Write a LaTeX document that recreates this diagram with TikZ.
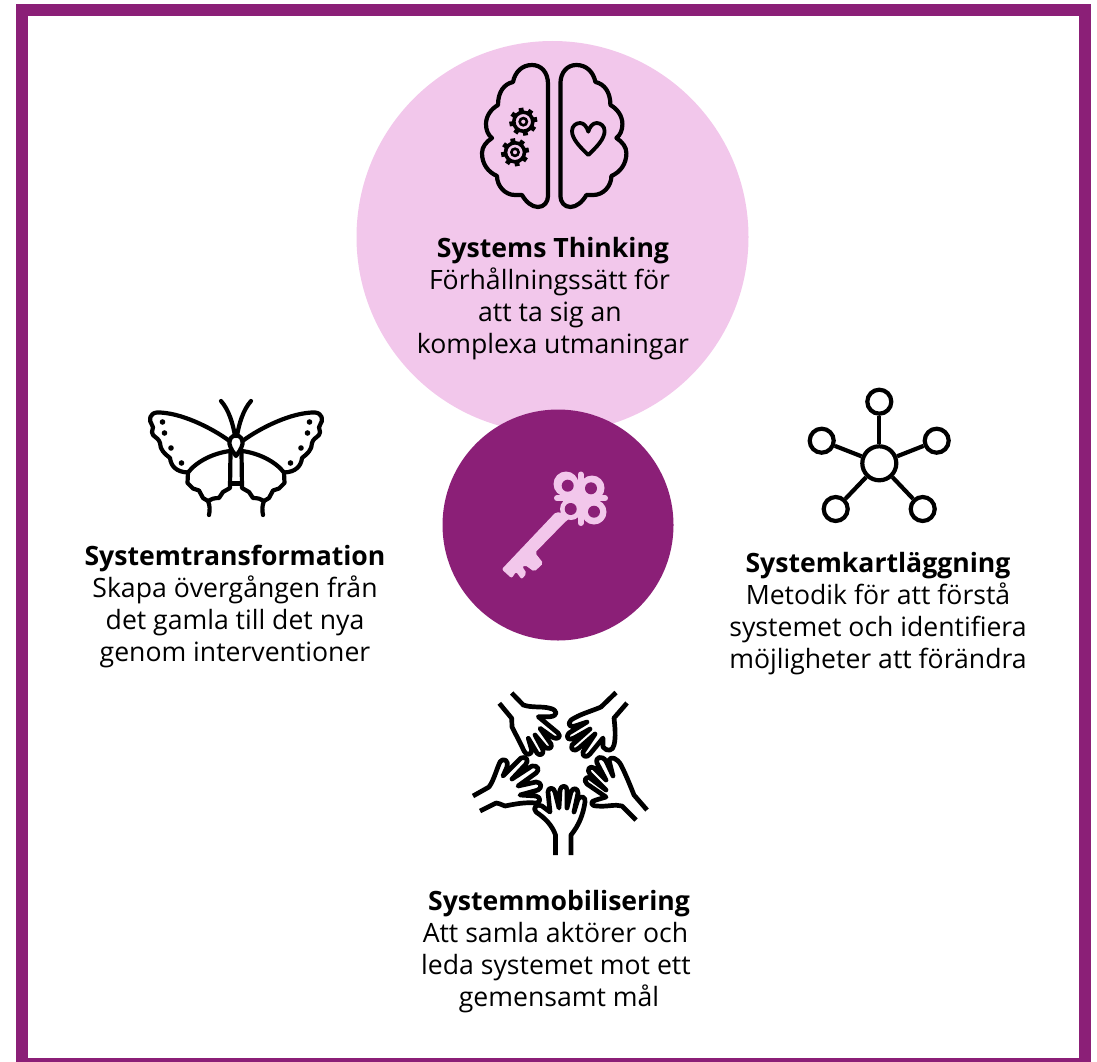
\documentclass[tikz,border=0pt]{standalone}
\usepackage{fontspec}
\setmainfont{Open Sans}
\definecolor{plum}{HTML}{8B1F77}
\definecolor{pinkc}{HTML}{F2C7EB}
\tikzset{
 icon/.style={draw=black,line width=4.2pt,line cap=round,line join=round},
 handicon/.style={icon,line width=4.7pt},
 caption/.style={align=center,font=\fontsize{26.6}{32}\selectfont,inner sep=0pt,text=black},
 pinkdisc/.style={circle,fill=pinkc,inner sep=0pt,minimum size=392pt},
 plumdisc/.style={circle,fill=plum,inner sep=0pt,minimum size=231pt},
 netnode/.style={circle,draw=black,fill=white,line width=4.2pt,inner sep=0pt,minimum size=24pt},
 nethub/.style={netnode,minimum size=34pt},
}
\newcommand{\halfbrain}{\draw[icon] (548,84) .. controls (548,72) and (541,65) .. (532,65) .. controls (522,65) and (515,72) .. (513,82) .. controls (504,84) and (498,92) .. (498,105)
 .. controls (491,109) and (486,116) .. (486,124) .. controls (486,130) and (488,135) .. (492,138)
 .. controls (486,142) and (482,147) .. (482,153) .. controls (482,164) and (488,172) .. (497,176)
 .. controls (497,186) and (505,195) .. (515,195) -- (522,195) .. controls (526,202) and (532,207) .. (538,207) .. controls (544,207) and (548,202) .. (548,196) -- cycle;}
\newcommand{\halffly}{
\draw[icon] (221,401) .. controls (229,410) and (233,424) .. (235,436);
\draw[icon] (229.5,441) .. controls (212,428) and (180,412) .. (157,412.5) .. controls (150,413) and (148,420) .. (152,425) .. controls (155,428) and (150,431) .. (153,435) .. controls (156,438) and (159,439) .. (160,443) .. controls (160,450) and (165,454) .. (170,458) .. controls (171,466) and (176,472) .. (188,472.5);
\draw[icon] (230,451) .. controls (214,453) and (197,461) .. (188,472.5) -- (187.5,483) -- (193,488.5) -- (199,490.5) -- (203,498) -- (208,501) .. controls (210,506) and (210,510) .. (209,515);
\draw[icon] (208,501) .. controls (211,499) and (214,498) .. (219,498) -- (223,492) -- (230,488) -- (230.5,452);
\foreach \x/\y in {162.5/422,164.5/433,171/448,181.5/463}{\fill (\x,\y) circle (2.8pt);}
}
\begin{document}
\begin{tikzpicture}[x=1pt,y=-1pt]
\useasboundingbox (0,0) rectangle (1097,1062);
\draw[plum,line width=12pt] (21.5,10.3) rectangle (1085,1064);
\node[pinkdisc] (think) at (552.5,237) {};
\node[plumdisc] (keydisc) at (558,525) {};
% brain
\halfbrain
\begin{scope}[shift={(1108.4,0)},xscale=-1]\halfbrain\end{scope}
\draw[icon,line width=3.8pt] (588.3,155) .. controls (580,147) and (572,139) .. (572,131) .. controls (572,126) and (576,123) .. (580,123) .. controls (584,123) and (587,127) .. (588.3,131.7) .. controls (589.6,127) and (592.6,123) .. (596.6,123) .. controls (600.6,123) and (604.6,126) .. (604.6,131) .. controls (604.6,139) and (596.6,147) .. (588.3,155) -- cycle;
\foreach \cx/\cy in {523.3/121.7,515/152.3}{
 \draw[black,line width=3.6pt] (\cx,\cy) circle (9.5pt);
 \draw[black,line width=2.6pt] (\cx,\cy) circle (3.6pt);
 \foreach \a in {10,55,...,325}{\draw[black,line width=4.8pt] (\cx,\cy) ++(\a:9pt) -- ++(\a:5pt);}
}
% key
\fill[pinkc] (566,484) circle (12.5pt) (592,488) circle (12.5pt) (571,509) circle (11pt) (594,512) circle (12.5pt) (580,498) circle (12pt);
\draw[pinkc,line width=6pt,line cap=round] (580.7,474.5) -- (580.7,523) (557,498.3) -- (605,498.3);
\fill[pinkc,rounded corners=2pt] (556,512) -- (501.7,569.3) -- (511.7,578.3) -- (516,571.7) -- (521.7,579.3) -- (526.7,573.3) -- (522.3,566.7) -- (525,565) -- (534.3,571.7) -- (543.3,563.3) -- (535,552.7) -- (566,521) -- (575,515) -- cycle;
\fill[plum] (567.7,485.7) circle (6pt) (591,488.3) circle (6pt) (570.7,509) circle (6pt) (594,511.7) circle (6pt);
% butterfly
\halffly
\begin{scope}[shift={(472,0)},xscale=-1]\halffly\end{scope}
\draw[icon] (236,435.5) .. controls (231,435.5) and (229,440) .. (229.5,444) .. controls (230.5,449) and (234,453) .. (236,456) .. controls (238,453) and (241.5,449) .. (242.5,444) .. controls (243,440) and (241,435.5) .. (236,435.5) -- cycle;
\draw[icon] (230.5,483.5) -- (241.5,483.5);
% network
\node[nethub] (hub) at (879.3,463.3) {};
\node[netnode] (n1) at (879.3,401.7) {};
\node[netnode] (n2) at (821.7,440.7) {};
\node[netnode] (n3) at (936.7,440.7) {};
\node[netnode] (n4) at (835.7,509) {};
\node[netnode] (n5) at (922.7,509) {};
\foreach \n in {n1,n2,n3,n4,n5}{\draw[black,line width=4.2pt] (hub) -- (\n);}
% hands
\draw[handicon,line cap=butt] (511.7,693) -- (523.3,705) .. controls (532,708) and (542,706) .. (550,708.3) .. controls (558,710) and (558,716) .. (550,716.7) -- (538.3,716.7) -- (558,733) .. controls (562,737) and (557,740) .. (553,737.5) -- (540,728.3) -- (551,744) .. controls (553,748) and (548,750) .. (545,747) -- (535,735) -- (543,750) .. controls (544,755) and (539,756) .. (537,753) -- (528.3,738.3) -- (531.7,750) .. controls (532,755) and (526,756) .. (524,751) .. controls (520,742) and (516,735) .. (512,727) -- (511.7,718.3) -- (499.3,703.3);
\draw[handicon,line cap=butt] (616,692.5) -- (601,707) .. controls (592,711) and (580,714) .. (571,720) .. controls (567,724) and (570,728) .. (575,726) -- (587,722) -- (569,733) .. controls (565,738) and (569,741) .. (574,738) -- (590,729) -- (572,745) .. controls (570,750) and (575,752) .. (579,748) -- (595,734) -- (583,752) .. controls (582,757) and (587,758) .. (590,754) -- (603,738) -- (603,747) .. controls (607,752) and (613,751) .. (614,745) .. controls (616,737) and (615,727) .. (614,718) -- (627,703);
\draw[handicon,line cap=butt] (473,796) -- (489,787) .. controls (494,780) and (497,768) .. (500,762) .. controls (504,757) and (509,761) .. (507,767) -- (503,776) -- (521,758) .. controls (526,756) and (529,760) .. (526,764) -- (512,779) -- (532,766) .. controls (538,765) and (540,770) .. (536,773) -- (518,786) -- (536,782) .. controls (542,782) and (542,788) .. (538,790) -- (520,795) -- (536,796) .. controls (541,797) and (541,803) .. (536,803) .. controls (525,802) and (515,804) .. (505,806) .. controls (500,804) and (498,803) .. (496,803) -- (480,811);
\draw[handicon,line cap=butt] (647,810) -- (634,795) .. controls (630,785) and (626,775) .. (621,765) .. controls (617,758) and (611,756) .. (609,760) -- (613,776) -- (606,761) .. controls (602,755) and (595,757) .. (597,763) -- (606,780) -- (594,768) .. controls (590,765) and (586,770) .. (590,774) -- (606,790) -- (590,778) .. controls (586,776) and (583,780) .. (587,784) -- (606,797) -- (596,800) .. controls (590,801) and (590,806) .. (597,806) .. controls (607,807) and (615,804) .. (622,806) -- (636,820);
\draw[handicon,line cap=butt] (555.5,855) -- (555.5,835) .. controls (552,825) and (545,818) .. (536,812) .. controls (532,808) and (537,803) .. (542,806) -- (550,812) -- (548,792) .. controls (548,787) and (554,787) .. (555,792) -- (559,808) -- (560,790) .. controls (561,785) and (567,785) .. (567,790) -- (567,808) -- (571,792) .. controls (573,787) and (578,788) .. (578,793) -- (574,812) -- (578,799) .. controls (581,795) and (586,797) .. (585,802) .. controls (583,815) and (579,825) .. (571,835) -- (571,855);
% captions
\node[caption] (t0) at (553,299) {\textbf{Systems Thinking}\\Förhållningssätt för\kern7pt\\att ta sig an\kern6pt\\komplexa utmaningar};
\node[caption] (t1) at (235,607) {\textbf{Systemtransformation}\\Skapa övergången från\\det gamla till det nya\\genom interventioner};
\node[caption] (t2) at (878,614) {\textbf{Systemkartläggning}\\Metodik för att förstå\\systemet och identifiera\\möjligheter att förändra};
\node[caption] (t3) at (559,952) {\textbf{Systemmobilisering}\\Att samla aktörer och\kern7pt\\leda systemet mot ett\kern6pt\\gemensamt mål};
\end{tikzpicture}
\end{document}
